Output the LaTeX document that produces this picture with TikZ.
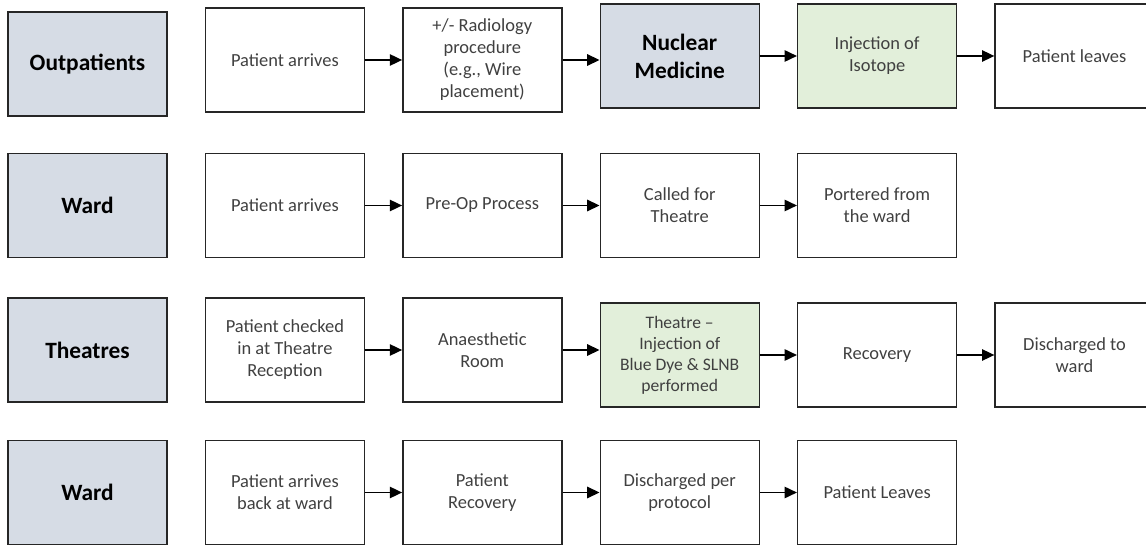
\documentclass[tikz,border=0pt]{standalone}
\usepackage{fontspec}
\setmainfont{Carlito}
\usetikzlibrary{arrows.meta,positioning}
\definecolor{areafill}{HTML}{D6DCE5}
\definecolor{keyfill}{HTML}{E2EFDA}

\begin{document}
\begin{tikzpicture}[>={Triangle[length=7pt,width=6.5pt]},node distance=7.4mm,
    box/.style={draw=black!85,line width=0.8pt,minimum width=31.8mm,minimum height=20.8mm,align=center,inner sep=2pt},
    area/.style={box,fill=areafill,font=\fontsize{13.3}{16}\selectfont\bfseries},
    task/.style={box,text=black!75,font=\fontsize{10.5}{12.5}\selectfont},
    keytask/.style={task,fill=keyfill},
    flow/.style={->,line width=0.8pt}]

    \useasboundingbox (0,0) rectangle (22.92,-10.92);

    % outpatients
    \node[area] (outp) at (1.75,-1.28) {Outpatients};
    \node[task] (arr1) [right=of outp,yshift=0.8mm] {Patient arrives};
    \node[task] (radio) [right=of arr1] {+/- Radiology\\procedure\\(e.g., Wire\\placement)};
    \node[area] (nucmed) [right=of radio,yshift=0.8mm] {Nuclear\\Medicine};
    \node[keytask] (isotope) [right=of nucmed] {Injection of\\Isotope};
    \node[task] (leave1) [right=of isotope] {Patient leaves};

    % ward
    \node[area] (ward1) at (1.75,-4.11) {Ward};
    \node[task] (arr2) [right=of ward1] {Patient arrives};
    \node[task] (preop) [right=of arr2] {Pre-Op Process};
    \node[task] (called) [right=of preop] {Called for\\Theatre};
    \node[task] (porter) [right=of called] {Portered from\\the ward};

    % theatres
    \node[area] (theatres) at (1.75,-7.0) {Theatres};
    \node[task] (checkin) [right=of theatres] {Patient checked\\in at Theatre\\Reception};
    \node[task] (anaes) [right=of checkin] {Anaesthetic\\Room};
    \node[keytask,font=\fontsize{10}{12}\selectfont] (slnb) [right=of anaes,yshift=-1mm] {Theatre –\\Injection of\\Blue Dye \& SLNB\\performed};
    \node[task] (recov1) [right=of slnb] {Recovery};
    \node[task] (disch1) [right=of recov1] {Discharged to\\ward};

    % ward again
    \node[area] (ward2) at (1.75,-9.85) {Ward};
    \node[task] (back) [right=of ward2] {Patient arrives\\back at ward};
    \node[task] (recov2) [right=of back] {Patient\\Recovery};
    \node[task] (disch2) [right=of recov2] {Discharged per\\protocol};
    \node[task] (leave2) [right=of disch2] {Patient Leaves};

    \foreach \a/\b in {arr1/radio,radio/nucmed,nucmed/isotope,isotope/leave1,
                       arr2/preop,preop/called,called/porter,
                       checkin/anaes,anaes/slnb,slnb/recov1,recov1/disch1,
                       back/recov2,recov2/disch2,disch2/leave2}
        \draw[flow] (\a.east) -- (\a.east -| \b.west);

\end{tikzpicture}
\end{document}
